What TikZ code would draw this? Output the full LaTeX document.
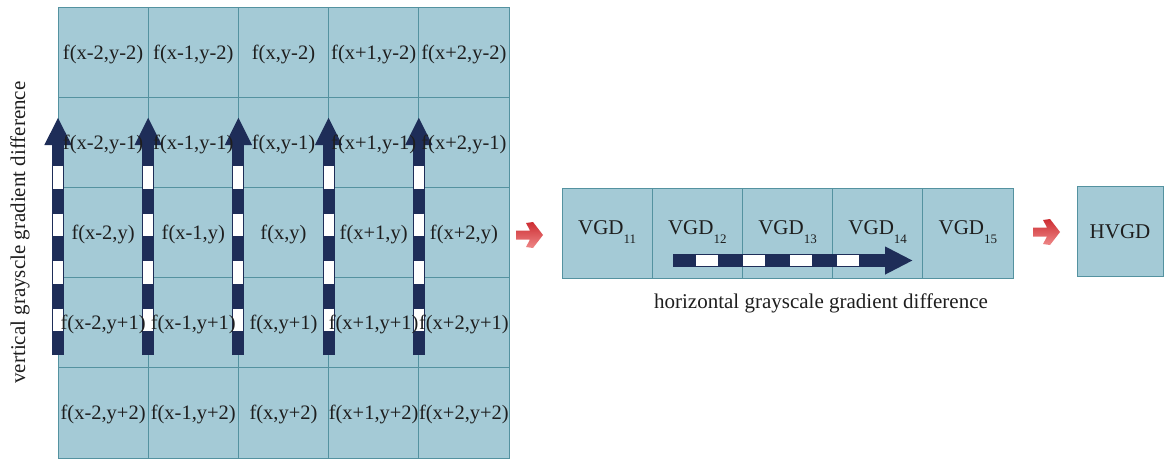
\documentclass[tikz,border=0pt]{standalone}
\usepackage{fontspec}
\setmainfont{Liberation Serif}
\usetikzlibrary{arrows.meta}

\definecolor{cellfill}{RGB}{164,202,214}
\definecolor{cellline}{RGB}{84,146,160}
\definecolor{navy}{RGB}{30,45,88}
\definecolor{redarrow}{RGB}{205,45,50}
\definecolor{redlight}{RGB}{238,135,135}
\definecolor{ink}{RGB}{30,30,30}

\tikzset{
  cell/.style={draw=cellline, fill=cellfill, line width=0.8pt, minimum width=90.2pt,
    minimum height=90.2pt, inner sep=0pt, outer sep=0pt, anchor=north west},
  vgdcell/.style={cell, minimum height=90pt},
  celltext/.style={font=\fontsize{20.5}{24}\selectfont, inner sep=0pt, anchor=base, text=ink},
  vgdtext/.style={font=\fontsize{21}{24}\selectfont, inner sep=0pt, anchor=base, text=ink},
  axislabel/.style={font=\fontsize{21}{24}\selectfont, inner sep=0pt, anchor=base, text=ink},
  varrow/.style={draw=navy, line width=12pt, -{Triangle[width=25pt,length=28pt]}},
  vstripe/.style={draw=white, line width=10pt, dash pattern=on 22.5pt off 25pt},
  harrow/.style={draw=navy, line width=13pt, -{Triangle[width=26pt,length=28pt]}},
  hstripe/.style={draw=white, line width=11pt, dash pattern=on 22pt off 25pt},
  redblock/.style={top color=redarrow, bottom color=redlight, draw=none},
  redpic/.pic={
    \shade[redblock] (0,-4.5) -- (14,-4.5) -- (10,-12) -- (17,-13) -- (27,0)
      -- (17,13) -- (10,12) -- (14,4.5) -- (0,4.5) -- cycle;
  },
}

\newcommand{\vgd}[1]{VGD\raisebox{-9pt}{\fontsize{13}{13}\selectfont #1}}

\begin{document}
\begin{tikzpicture}[x=1pt,y=-1pt]
\useasboundingbox (0,0) rectangle (1166,459);

% 5x5 neighbourhood grid
\foreach \c in {0,...,4}
  \foreach \r in {0,...,4}
    \node[cell] (g-\c-\r) at ({58+90.2*\c},{7+90.2*\r}) {};

% vertical gradient arrows along the column borders
\foreach \c in {0,...,4} {
  \coordinate (vb-\c) at ({58+90.2*\c},355);
  \coordinate (vt-\c) at ({58+90.2*\c},117);
  \coordinate (vs-\c) at ({58+90.2*\c},166);
  \coordinate (ve-\c) at ({58+90.2*\c},331);
  \draw[varrow] (vb-\c) -- (vt-\c);
  \draw[vstripe] (vs-\c) -- (ve-\c);
}

% pixel labels
\foreach \c/\cx in {0/x-2,1/x-1,2/x,3/x+1,4/x+2}
  \foreach \r/\ry in {0/y-2,1/y-1,2/y,3/y+1,4/y+2}
    \node[celltext] (t-\c-\r) at ([yshift=-7pt]g-\c-\r.center) {f(\cx,\ry)};

\node[axislabel, rotate=90] (vlabel) at (25,232.5) {vertical grayscle gradient difference};

% vertical gradient differences
\foreach \i in {1,...,5}
  \node[vgdcell] (v-\i) at ({562+90.2*(\i-1)},188) {};
\foreach \i in {1,...,5}
  \node[vgdtext] (vt\i) at ([yshift=-1pt]v-\i.center) {\vgd{1\i}};

% horizontal gradient arrow
\coordinate (hb) at (673,260.5);
\coordinate (ht) at (913,260.5);
\coordinate (hs) at (696,260.5);
\coordinate (he) at (859,260.5);
\draw[harrow] (hb) -- (ht);
\draw[hstripe] (hs) -- (he);

\node[axislabel] (hlabel) at (821,308) {horizontal grayscale gradient difference};

% result
\node[vgdcell, minimum width=86pt] (h) at (1077,186) {};
\node[vgdtext] (htext) at ([yshift=-7pt]h.center) {HVGD};

% red step arrows
\coordinate (r1) at (516,235);
\coordinate (r2) at (1033,232);
\pic at (r1) {redpic};
\pic at (r2) {redpic};
\end{tikzpicture}
\end{document}
